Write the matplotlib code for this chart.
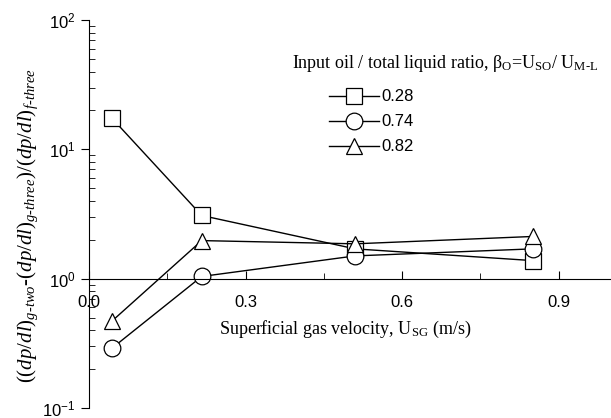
import matplotlib
matplotlib.use("Agg")
import matplotlib.pyplot as plt
from matplotlib.ticker import LogLocator, NullFormatter, FixedLocator

plt.rcParams['mathtext.fontset'] = 'custom'
plt.rcParams['mathtext.rm'] = 'Liberation Serif'
plt.rcParams['mathtext.it'] = 'Liberation Serif:italic'

x = [0.044, 0.216, 0.51, 0.85]
s028 = [17.4, 3.08, 1.7, 1.38]
s074 = [0.29, 1.04, 1.5, 1.7]
s082 = [0.47, 1.97, 1.86, 2.12]
labels = ['0.28', '0.74', '0.82']
markers = ['s', 'o', '^']

fig = plt.figure(figsize=(6.11, 4.18), dpi=100)
ax = fig.add_axes([0.1457, 0.024, 0.854, 0.928])
for ys, lab, m in zip([s028, s074, s082], labels, markers):
    ax.plot(x, ys, color='black', lw=1, marker=m, ms=11 if m != 'o' else 12,
            mfc='white', mec='black', mew=0.9, label=lab)
ax.set_yscale('log')
ax.set_ylim(0.1, 100)
ax.set_xlim(0, 1.0)
ax.spines['top'].set_visible(False)
ax.spines['right'].set_visible(False)
ax.spines['bottom'].set_position(('data', 1))
ax.xaxis.set_major_locator(FixedLocator([0, 0.3, 0.6, 0.9]))
ax.xaxis.set_minor_locator(FixedLocator([0.15, 0.45, 0.75]))
ax.set_xticklabels(['0.0', '0.3', '0.6', '0.9'])
ax.tick_params(axis='x', which='both', direction='in', length=6, labelsize=12, pad=12)
ax.tick_params(axis='x', which='minor', length=4)
ax.tick_params(axis='y', which='major', direction='out', length=6, labelsize=12)
ax.tick_params(axis='y', which='minor', direction='in', length=4)
ax.yaxis.set_minor_locator(LogLocator(subs=range(2, 10)))
ax.yaxis.set_minor_formatter(NullFormatter())
for t in ax.get_xticklabels() + ax.get_yticklabels():
    t.set_fontfamily('Liberation Sans')

fig.text(0.565, 0.213, 'Superficial gas velocity, U$_{\\mathrm{SG}}$ (m/s)',
         ha='center', va='center', fontsize=13, family='Liberation Serif')
fig.text(0.045, 0.46,
         '$((dp/dl)_{g\\text{-}two}\\text{-}(dp/dl)_{g\\text{-}three})/(dp/dl)_{f\\text{-}three}$',
         rotation=90, ha='center', va='center', fontsize=15)
fig.text(0.728, 0.848,
         'Input oil / total liquid ratio, $\\mathrm{\\beta}_{\\mathrm{O}}$=U$_{\\mathrm{SO}}$/ U$_{\\mathrm{M\\text{-}L}}$',
         ha='center', va='center', fontsize=13, family='Liberation Serif')
ax.legend(loc='upper left', bbox_to_anchor=(0.432, 0.86), frameon=False,
          prop={'family': 'Liberation Sans', 'size': 12}, handlelength=3.0,
          labelspacing=0.6, handletextpad=0.1)
fig.savefig('out.png', dpi=100)
